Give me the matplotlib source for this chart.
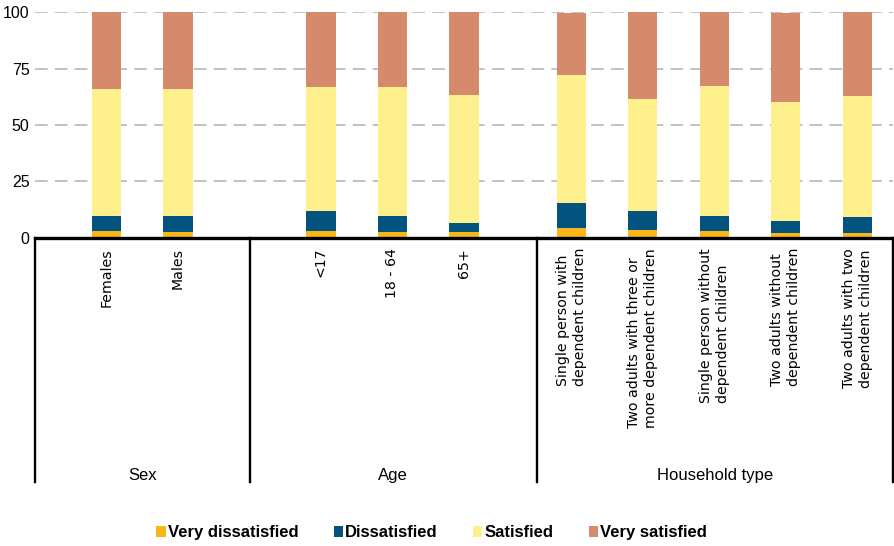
"""Satisfaction by sex, age and household type (stacked bars, grouped axis)."""
import matplotlib
matplotlib.use('Agg')
import matplotlib.pyplot as plt
from matplotlib.patches import Patch

categories = ['Females', 'Males', '<17', '18 - 64', '65+',
              'Single person with\ndependent children',
              'Two adults with three or\nmore dependent children',
              'Single person without\ndependent children',
              'Two adults without\ndependent children',
              'Two adults with two\ndependent children']
groups = ['Sex', 'Age', 'Household type']

very_dissatisfied = [3.1, 2.7, 3.1, 2.7, 2.7, 4.3, 3.4, 3.1, 2.1, 2.1]
dissatisfied = [6.5, 6.9, 8.9, 6.9, 3.8, 11.2, 8.6, 6.5, 5.3, 7.1]
satisfied = [56.4, 56.4, 54.9, 57.3, 56.8, 56.7, 49.5, 57.7, 52.8, 53.7]
very_satisfied = [34.0, 34.0, 33.1, 33.1, 36.7, 27.5, 38.5, 32.7, 39.5, 37.1]

series = ['Very dissatisfied', 'Dissatisfied', 'Satisfied', 'Very satisfied']
colors = ['#FAB619', '#02547F', '#FEF08D', '#D68A6C']

NARROW = ['Liberation Sans Narrow', 'Liberation Sans', 'DejaVu Sans']

# x slots: bars one unit apart, extra gaps between groups
xpos = [0, 1, 3, 4, 5, 6.5, 7.5, 8.5, 9.5, 10.5]
separators = [-1, 2, 6.02, 11]

fig = plt.figure(figsize=(8.94, 5.46), dpi=100)
ax = fig.add_axes([35 / 894, 0.5647, 858 / 894, 0.4128])

bottom = [0.0] * len(categories)
for name, vals, col in zip(series, [very_dissatisfied, dissatisfied, satisfied, very_satisfied], colors):
    ax.bar(xpos, vals, width=0.41, bottom=bottom, color=col, zorder=3)
    bottom = [b + v for b, v in zip(bottom, vals)]

ax.set_xlim(-1, 11)
ax.set_ylim(0, 100)
ax.set_yticks([0, 25, 50, 75, 100])
ax.set_yticklabels(['0', '25', '50', '75', '100'], family=NARROW, fontsize=11.5)
ax.tick_params(axis='y', length=0, pad=4)
ax.set_xticks([])
for s in ax.spines.values():
    s.set_visible(False)
ax.yaxis.grid(True, color='#BDBDBD', linestyle=(0, (7, 4)), linewidth=1.3, zorder=0)

# grouping "table" below the axis
tr = ax.get_xaxis_transform()
ax.plot([-1, 11], [0, 0], color='black', lw=2.4, transform=tr, clip_on=False, zorder=5)
for sx in separators:
    ax.plot([sx, sx], [0, -1.083], color='black', lw=1.7, transform=tr, clip_on=False)

for x, lab in zip(xpos, categories):
    ax.text(x, -0.045, lab, transform=tr, rotation=90, ha='center', va='top',
            multialignment='left', fontsize=10.2, linespacing=1.3,
            family='DejaVu Sans')

for i, g in enumerate(groups):
    ax.text((separators[i] + separators[i + 1]) / 2, -1.056, g, transform=tr,
            ha='center', va='center', fontsize=12, family=NARROW)

handles = [Patch(facecolor=c, edgecolor='none') for c in colors]
leg = fig.legend(handles, series, loc='center', bbox_to_anchor=(0.483, 0.024), ncol=4,
                 frameon=False, handlelength=0.55, handleheight=0.55, handletextpad=0.15,
                 columnspacing=2.1, prop={'family': NARROW, 'weight': 'bold', 'size': 12})

fig.savefig('out.png', dpi=100)
